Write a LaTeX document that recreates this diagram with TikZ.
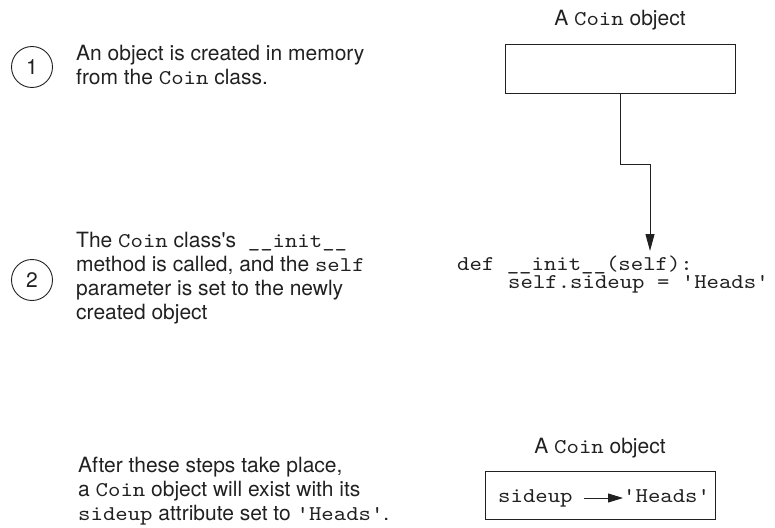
\documentclass[tikz,border=0pt]{standalone}
\usepackage{fontspec}
\newfontfamily\hv{TeX Gyre Heros}
\newfontfamily\cdf[FakeStretch=1.125]{lmmono10-regular.otf}
\newcommand\cd[1]{{\cdf #1}}
\usetikzlibrary{arrows.meta}
\definecolor{ink}{gray}{0.13}
\tikzset{
  txt/.style={anchor=base west, inner sep=0pt, font=\hv\fontsize{21}{24}\selectfont, text=ink},
  code/.style={anchor=base west, inner sep=0pt, font=\cdf\fontsize{21}{24}\selectfont, text=ink},
  stepnum/.style={circle, draw=ink, line width=0.9pt, minimum size=41pt, inner sep=0pt, font=\hv\fontsize{21}{24}\selectfont, text=ink},
  objbox/.style={draw=ink, line width=1pt, inner sep=0pt, anchor=north west, minimum width=230pt},
  conn/.style={draw=ink, line width=1pt, -{Triangle[length=17pt,width=9pt]}},
  conn2/.style={draw=ink, line width=1pt, -{Triangle[length=15pt,width=9pt]}}
}
\begin{document}
\begin{tikzpicture}[x=1pt,y=-1pt]
\useasboundingbox (0,0) rectangle (775,527);
% step 1
\node[stepnum] (s1) at (32,67) {1};
\node[txt] (t1a) at (76,60) {An object is created in memory};
\node[txt] (t1b) at (76,84) {from the \cd{Coin} class.};
% top object
\node[txt, anchor=base] (lab1) at (620,26) {A \cd{Coin} object};
\node[objbox, minimum height=49pt] (obj1) at (505,44) {};
\coordinate (tipA) at (650,251);
\draw[conn] (obj1.south) -- ++(0,70) -| (tipA);
% step 2
\node[stepnum] (s2) at (32,280) {2};
\node[txt] (t2a) at (76,247) {The \cd{Coin} class's\hspace{6pt} \cd{\_\_init\_\_}};
\node[txt] (t2b) at (76,271) {method is called, and the \cd{self}};
\node[txt] (t2c) at (76,295) {parameter is set to the newly};
\node[txt] (t2d) at (76,319) {created object};
% code
\node[code] (c1) at (457,270) {def \_\_init\_\_(self):};
\node[code] (c2) at (508,288) {self.sideup = 'Heads'};
% result
\node[txt] (t3a) at (78,472) {After these steps take place,};
\node[txt] (t3b) at (78,496) {a \cd{Coin} object will exist with its};
\node[txt] (t3c) at (78,520) {\cd{sideup} attribute set to \cd{'Heads'}.};
\node[txt, anchor=base] (lab2) at (600,453) {A \cd{Coin} object};
\node[objbox, minimum height=48pt] (obj2) at (485,471) {};
\node[code] (side) at (498,502) {sideup};
\node[code] (heads) at (623,502) {'Heads'};
\draw[conn2] ([xshift=11pt,yshift=4pt]side.base east) -- ([yshift=4pt]heads.base west);
\end{tikzpicture}
\end{document}
